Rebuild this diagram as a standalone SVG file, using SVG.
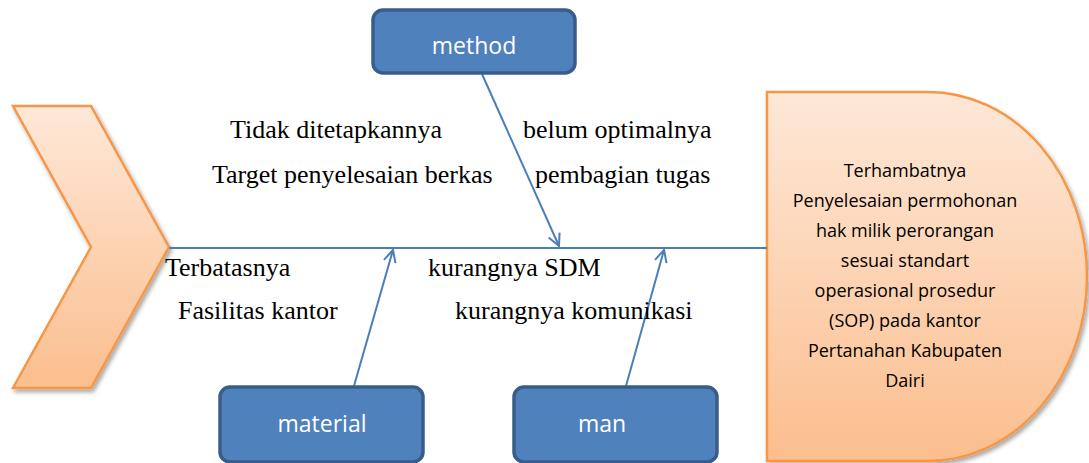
<svg xmlns="http://www.w3.org/2000/svg" width="1089" height="463" viewBox="0 0 1089 463">
<style>
.box{fill:#4F81BD;stroke:#385D8A;stroke-width:3.5}
.lbl{font-family:"Open Sans","Liberation Sans",sans-serif;font-size:23px;fill:#fff;text-anchor:middle}
.cause{font-family:"Liberation Serif",serif;font-size:26px;fill:#000}
.eff{font-family:"Open Sans","Liberation Sans",sans-serif;font-size:18px;fill:#000;text-anchor:middle}
.con{stroke:#4A7EBB;stroke-width:2;fill:none}
.org{stroke:#F79646;stroke-width:2.5}
</style>
<defs>
<linearGradient id="og" x1="0" y1="0" x2="0" y2="1">
<stop offset="0" stop-color="#FEE8D8"/>
<stop offset="1" stop-color="#FBBE8E"/>
</linearGradient>
<filter id="sh" x="-10%" y="-10%" width="130%" height="130%">
<feGaussianBlur in="SourceAlpha" stdDeviation="2"/>
<feOffset dx="2" dy="3"/>
<feComponentTransfer><feFuncA type="linear" slope="0.35"/></feComponentTransfer>
<feMerge><feMergeNode/><feMergeNode in="SourceGraphic"/></feMerge>
</filter>
<marker id="ah" viewBox="0 0 14 14" refX="13" refY="7" markerWidth="14" markerHeight="14" markerUnits="userSpaceOnUse" orient="auto">
<path d="M1,1 L13,7 L1,13" fill="none" stroke="#4A7EBB" stroke-width="2"/>
</marker>
</defs>
<g id="chevron">
<polygon class="org" points="13,106 91,106 169,247 91,388 13,388 91,247" fill="url(#og)" filter="url(#sh)"/>
</g>
<g id="effect">
<path class="org" d="M767,92 L928,92 A159,184.5 0 0 1 928,461 L767,461 Z" fill="url(#og)" filter="url(#sh)"/>
<text class="eff" x="905" y="177">Terhambatnya</text>
<text class="eff" x="905" y="207">Penyelesaian permohonan</text>
<text class="eff" x="905" y="237">hak milik perorangan</text>
<text class="eff" x="905" y="267">sesuai standart</text>
<text class="eff" x="905" y="297">operasional prosedur</text>
<text class="eff" x="905" y="327">(SOP) pada kantor</text>
<text class="eff" x="905" y="357">Pertanahan Kabupaten</text>
<text class="eff" x="905" y="387">Dairi</text>
</g>
<g id="connectors">
<line class="con" x1="169" y1="248" x2="767" y2="248"/>
<line class="con" x1="482" y1="74" x2="559" y2="246" marker-end="url(#ah)"/>
<line class="con" x1="354" y1="386" x2="393" y2="250" marker-end="url(#ah)"/>
<line class="con" x1="626" y1="386" x2="664" y2="250" marker-end="url(#ah)"/>
</g>
<g id="method">
<rect class="box" x="373" y="10" width="202" height="63" rx="10"/>
<text class="lbl" x="474" y="54">method</text>
</g>
<g id="material">
<rect class="box" x="220" y="387" width="203" height="75" rx="10"/>
<text class="lbl" x="322" y="432">material</text>
</g>
<g id="man">
<rect class="box" x="514" y="387" width="203" height="75" rx="10"/>
<text class="lbl" x="602" y="432">man</text>
</g>
<g id="causes">
<text class="cause" x="230" y="138">Tidak ditetapkannya</text>
<text class="cause" x="212" y="183">Target penyelesaian berkas</text>
<text class="cause" x="523" y="138">belum optimalnya</text>
<text class="cause" x="535" y="183">pembagian tugas</text>
<text class="cause" x="165" y="276">Terbatasnya</text>
<text class="cause" x="428" y="276">kurangnya SDM</text>
<text class="cause" x="178" y="319">Fasilitas kantor</text>
<text class="cause" x="455" y="319">kurangnya komunikasi</text>
</g>
</svg>
